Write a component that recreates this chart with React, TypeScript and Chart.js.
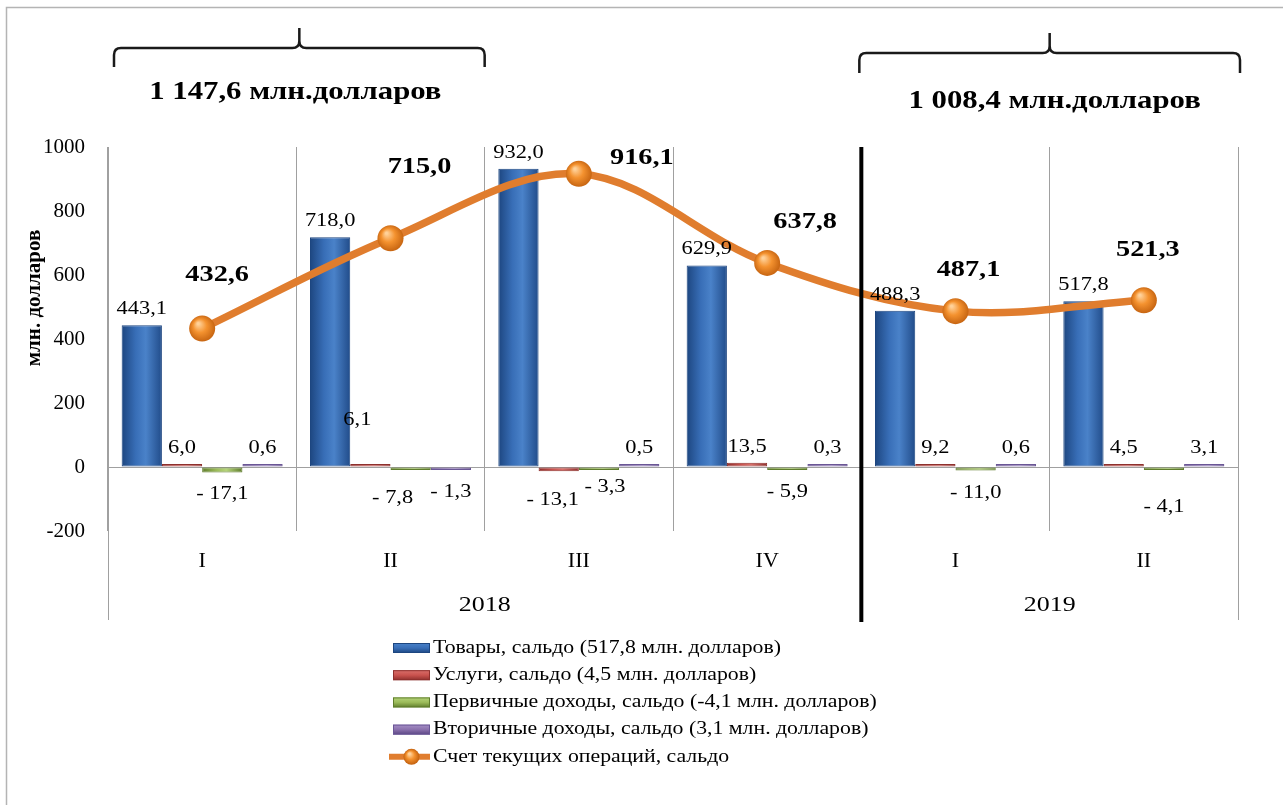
import React, { useEffect, useRef } from 'react';
import { Chart, registerables } from 'chart.js';

Chart.register(...registerables);

// ---------- data ----------
const quarters = ['I', 'II', 'III', 'IV', 'I', 'II'];
const years = ['2018', '2019'];
const yearSpans = [4, 2];
const goods = [443.1, 718.0, 932.0, 629.9, 488.3, 517.8];
const services = [6.0, 6.1, -13.1, 13.5, 9.2, 4.5];
const primaryIncome = [-17.1, -7.8, -3.3, -5.9, -11.0, -4.1];
const secondaryIncome = [0.6, -1.3, 0.5, 0.3, 0.6, 3.1];
const currentAccount = [432.6, 715.0, 916.1, 637.8, 487.1, 521.3];
const seriesNames = [
  'Товары, сальдо (517,8 млн. долларов)',
  'Услуги, сальдо (4,5 млн. долларов)',
  'Первичные доходы, сальдо (-4,1 млн. долларов)',
  'Вторичные доходы, сальдо (3,1 млн. долларов)',
  'Счет текущих операций, сальдо',
];
const yMin = -200;
const yMax = 1000;
const yStep = 200;
const yTitle = 'млн. долларов';
const periodTotals = ['1 147,6 млн.долларов', '1 008,4 млн.долларов'];

// ---------- styles ----------
const FONT = "'Liberation Serif', 'Times New Roman', serif";
const CAT_PCT = 0.855;
const STRETCH = 1.18;
const barStops: string[][] = [
  ['#1d4680', '#386eb7', '#4a82c9', '#214c8a'],
  ['#8e302d', '#c9524e', '#d9706b', '#8e302d'],
  ['#5f7d2c', '#9bbb59', '#b5d47a', '#5f7d2c'],
  ['#5a4582', '#8a70ad', '#a690c6', '#5a4582'],
];
const barBorders = ['#1d4680', '#8e302d', '#5f7d2c', '#6a5696'];
const barFlat = ['#3566aa', '#c0504d', '#9bbb59', '#8064a2'];
// manual label nudges [dx, dy] for bar labels (dataset -> index)
const barLabelNudges: Record<string, [number, number]> = {
  '1-1': [-13, -28],
  '2-1': [-18, 6],
  '1-2': [-6, 7],
  '2-2': [6, -5],
  '2-5': [0, 15],
};
// line label offsets relative to marker [dx, dy]
const lineLabelOffsets: [number, number][] = [
  [15, -54],
  [29, -71],
  [63, -16],
  [38, -41],
  [13, -41],
  [4, -50],
];

const fmtBar = (v: number) => (v < 0 ? '- ' : '') + Math.abs(v).toFixed(1).replace('.', ',');
const fmtLine = (v: number) => v.toFixed(1).replace('.', ',');
const fin = (...a: number[]) => a.every((n) => Number.isFinite(n));

function sText(c: CanvasRenderingContext2D, text: string, x: number, y: number, sx = STRETCH) {
  c.save();
  c.translate(x, y);
  c.scale(sx, 1);
  c.fillText(text, 0, 0);
  c.restore();
}

export default function App() {
  const ref = useRef<HTMLCanvasElement>(null);

  useEffect(() => {
    const canvas = ref.current;
    if (!canvas) return;
    const barSeries = [goods, services, primaryIncome, secondaryIncome];

    const barBg = (d: number) => (ctx: any) => {
      const chart = ctx.chart;
      const xs = chart.scales && chart.scales.x;
      if (!xs || ctx.dataIndex === undefined) return barFlat[d];
      const cw = xs.width / quarters.length;
      const w = (cw * CAT_PCT) / 4;
      const cx = xs.getPixelForValue(ctx.dataIndex) + (d - 1.5) * w;
      if (!fin(cx, w) || w <= 0) return barFlat[d];
      const g = chart.ctx.createLinearGradient(cx - w / 2, 0, cx + w / 2, 0);
      const s = barStops[d];
      g.addColorStop(0, s[0]);
      g.addColorStop(0.35, s[1]);
      g.addColorStop(0.6, s[2]);
      g.addColorStop(1, s[3]);
      return g;
    };

    const pointBg = (ctx: any) => {
      const chart = ctx.chart;
      const xs = chart.scales && chart.scales.x;
      const ys = chart.scales && chart.scales.y;
      if (!xs || !ys || ctx.dataIndex === undefined) return '#f08a30';
      const x = xs.getPixelForValue(ctx.dataIndex);
      const y = ys.getPixelForValue(currentAccount[ctx.dataIndex]);
      if (!fin(x, y)) return '#f08a30';
      const g = chart.ctx.createRadialGradient(x - 4, y - 5, 1, x, y, 14);
      g.addColorStop(0, '#ffd199');
      g.addColorStop(0.45, '#f4922f');
      g.addColorStop(1, '#c2600e');
      return g;
    };

    const decor = {
      id: 'decor',
      beforeDraw(chart: any) {
        const c = chart.ctx;
        c.save();
        c.fillStyle = '#ffffff';
        c.fillRect(0, 0, chart.width, chart.height);
        c.strokeStyle = '#b4b4b4';
        c.lineWidth = 1.5;
        c.beginPath();
        c.moveTo(6.5, chart.height);
        c.lineTo(6.5, 7.5);
        c.lineTo(1283, 7.5);
        c.stroke();
        c.restore();
      },
      afterDatasetsDraw(chart: any) {
        const c = chart.ctx;
        const xs = chart.scales.x;
        const area = chart.chartArea;
        const cw = xs.width / quarters.length;
        const bound = (k: number) => xs.left + k * cw;
        c.save();

        // extended separators below plot
        c.strokeStyle = '#a0a0a0';
        c.lineWidth = 1;
        c.beginPath();
        c.moveTo(Math.round(xs.left) + 0.5, area.bottom);
        c.lineTo(Math.round(xs.left) + 0.5, 620);
        c.moveTo(Math.round(xs.right) + 0.5, area.bottom);
        c.lineTo(Math.round(xs.right) + 0.5, 620);
        c.stroke();

        // thick black year divider
        c.strokeStyle = '#000';
        c.lineWidth = 4;
        c.beginPath();
        c.moveTo(bound(4), area.top);
        c.lineTo(bound(4), 622);
        c.stroke();

        // y axis title
        c.fillStyle = '#000';
        c.textAlign = 'center';
        c.textBaseline = 'middle';
        c.save();
        c.translate(35, 298);
        c.rotate(-Math.PI / 2);
        c.font = `bold 21px ${FONT}`;
        c.fillText(yTitle, 0, 0);
        c.restore();

        // year labels
        c.font = `22px ${FONT}`;
        let k = 0;
        years.forEach((yr, i) => {
          const x0 = bound(k);
          const x1 = bound(k + yearSpans[i]);
          sText(c, yr, (x0 + x1) / 2, 605);
          k += yearSpans[i];
        });

        // bar labels
        c.font = `19px ${FONT}`;
        for (let d = 0; d < 4; d++) {
          const meta = chart.getDatasetMeta(d);
          meta.data.forEach((el: any, i: number) => {
            const v = barSeries[d][i];
            const top = Math.min(el.y, el.base);
            const bottom = Math.max(el.y, el.base);
            let x = el.x;
            let y = v >= 0 ? top - 16 : bottom + 22;
            const n = barLabelNudges[`${d}-${i}`];
            if (n) {
              x += n[0];
              y += n[1];
            }
            sText(c, fmtBar(v), x, y);
          });
        }

        // line labels
        c.font = `bold 24px ${FONT}`;
        const lm = chart.getDatasetMeta(4);
        lm.data.forEach((el: any, i: number) => {
          const o = lineLabelOffsets[i];
          sText(c, fmtLine(currentAccount[i]), el.x + o[0], el.y + o[1]);
        });

        // braces
        const brace = (x1: number, x2: number, xm: number, yTip: number, yMid: number, yEnd: number) => {
          const r = 7;
          c.beginPath();
          c.moveTo(x1, yEnd);
          c.lineTo(x1, yMid + r);
          c.quadraticCurveTo(x1, yMid, x1 + r, yMid);
          c.lineTo(xm - r, yMid);
          c.quadraticCurveTo(xm, yMid, xm, yMid - r);
          c.lineTo(xm, yTip);
          c.moveTo(xm, yMid - r);
          c.quadraticCurveTo(xm, yMid, xm + r, yMid);
          c.lineTo(x2 - r, yMid);
          c.quadraticCurveTo(x2, yMid, x2, yMid + r);
          c.lineTo(x2, yEnd);
          c.stroke();
        };
        c.strokeStyle = '#1a1a1a';
        c.lineWidth = 2.5;
        const b1x1 = bound(0) + 6;
        const b1x2 = bound(2);
        brace(b1x1, b1x2, (b1x1 + b1x2) / 2, 28, 48, 67);
        const b2x1 = bound(4) - 2;
        const b2x2 = bound(6) + 2;
        brace(b2x1, b2x2, (b2x1 + b2x2) / 2, 33, 53, 73);
        c.font = `bold 25px ${FONT}`;
        sText(c, periodTotals[0], (b1x1 + b1x2) / 2 - 4, 93, 1.23);
        sText(c, periodTotals[1], (b2x1 + b2x2) / 2 + 5, 102, 1.23);

        // legend
        const lx = 393;
        const lw = 37;
        c.textAlign = 'left';
        c.font = `18px ${FONT}`;
        seriesNames.forEach((name, i) => {
          const y = 648 + i * 27.2;
          if (i < 4) {
            const g = c.createLinearGradient(0, y - 5, 0, y + 5);
            g.addColorStop(0, barStops[i][2]);
            g.addColorStop(0.5, barStops[i][1]);
            g.addColorStop(1, barStops[i][0]);
            c.fillStyle = g;
            c.fillRect(lx, y - 5, lw, 10);
            c.strokeStyle = barBorders[i];
            c.lineWidth = 1;
            c.strokeRect(lx + 0.5, y - 4.5, lw - 1, 9);
          } else {
            c.strokeStyle = '#e07d2e';
            c.lineWidth = 6;
            c.beginPath();
            c.moveTo(lx - 4, y);
            c.lineTo(lx + lw, y);
            c.stroke();
            const g = c.createRadialGradient(lx + lw / 2 - 2, y - 3, 1, lx + lw / 2, y, 8);
            g.addColorStop(0, '#ffd199');
            g.addColorStop(0.45, '#f4922f');
            g.addColorStop(1, '#c2600e');
            c.fillStyle = g;
            c.beginPath();
            c.arc(lx + lw / 2, y, 8, 0, Math.PI * 2);
            c.fill();
          }
          c.fillStyle = '#000';
          sText(c, name, lx + lw + 3, y, 1.21);
        });

        c.restore();
      },
    };

    const chart = new Chart(canvas, {
      type: 'bar',
      data: {
        labels: quarters,
        datasets: [
          ...barSeries.map((s, d) => ({
            type: 'bar' as const,
            label: seriesNames[d],
            data: s,
            backgroundColor: barBg(d),
            borderColor: barBorders[d],
            borderWidth: 1,
            borderSkipped: false,
            minBarLength: d === 0 ? 0 : 3,
            categoryPercentage: CAT_PCT,
            barPercentage: 1,
            order: 1,
          })),
          {
            type: 'line' as const,
            label: seriesNames[4],
            data: currentAccount,
            borderColor: '#e07d2e',
            borderWidth: 7.5,
            tension: 0.35,
            pointRadius: 13,
            pointBorderWidth: 0,
            pointBackgroundColor: pointBg,
            order: 0,
          } as any,
        ],
      },
      options: {
        responsive: false,
        animation: false,
        events: [],
        layout: { padding: { top: 147, right: 49, bottom: 0, left: 0 } },
        plugins: {
          legend: { display: false },
          tooltip: { enabled: false },
        },
        scales: {
          x: {
            grid: { display: true, offset: true, color: '#a0a0a0', drawTicks: false },
            border: { display: false },
            ticks: { color: '#000', font: { family: FONT, size: 22 }, padding: 17 },
            afterFit: (s: any) => {
              s.height = 274;
            },
          },
          y: {
            min: yMin,
            max: yMax,
            ticks: {
              stepSize: yStep,
              color: '#000',
              font: { family: FONT, size: 21 },
              padding: 23,
              callback: (v: any) => String(v),
            },
            grid: {
              drawTicks: false,
              color: (ctx: any) => (ctx.tick && ctx.tick.value === 0 ? '#a0a0a0' : 'rgba(0,0,0,0)'),
            },
            border: { display: true, color: '#a0a0a0', width: 1 },
            title: { display: false },
            afterFit: (s: any) => {
              s.width = 108;
            },
          },
        },
      },
      plugins: [decor],
    });

    return () => chart.destroy();
  }, []);

  return (
    <div style={{ position: 'absolute', left: 0, top: 0, width: 1287, height: 805, background: '#fff' }}>
      <canvas ref={ref} width={1287} height={805} style={{ display: 'block' }} />
    </div>
  );
}
